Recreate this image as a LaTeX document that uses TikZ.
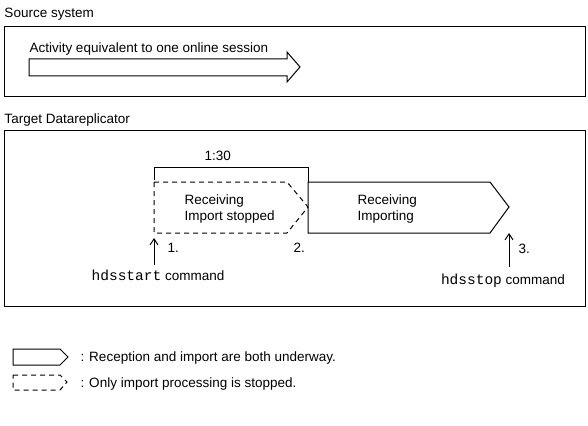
\documentclass[tikz,border=0pt]{standalone}
\usepackage{fontspec}
\setmainfont{Liberation Sans}
\setmonofont{Liberation Mono}
\usetikzlibrary{arrows.meta,positioning}

\begin{document}
\begin{tikzpicture}[
    x=1pt, y=-1pt,
    line width=1pt,
    txt/.style={anchor=base west, inner sep=0pt, font=\fontsize{13.5}{16}\selectfont},
    cmd/.style={anchor=base, inner sep=0pt, font=\fontsize{13.5}{16}\selectfont},
    frame/.style={draw, line width=1pt},
    stopped/.style={draw, dash pattern=on 5pt off 4pt},
    up/.style={-{Straight Barb[length=6pt,width=8pt]}}
]
    \useasboundingbox (0,0) rectangle (588,425);

    % source system
    \node[txt] (srclabel) at (4,18) {Source system};
    \draw[frame] (4,27) rectangle (585,97);
    \node[txt] (activity) at (29,53) {Activity equivalent to one online session};
    \draw (29,59) -- (287,59) -- (287,52) -- (300,67) -- (287,82) -- (287,76) -- (29,76) -- cycle;

    % target datareplicator
    \node[txt] (tgtlabel) at (4,124) {Target Datareplicator};
    \draw[frame] (4,130) rectangle (585,306);

    \node[txt] (period) at (204,160) {1:30};
    \draw (154,180) -- (154,167) -- (308,167) -- (308,182);

    \draw[stopped] (154,182) -- (287,182) -- (308,207) -- (287,233) -- (154,233) -- cycle;
    \node[txt] (rs) at (184,204) {Receiving};
    \node[txt] (is) at (184,220) {Import stopped};

    \draw (308,182) -- (490,182) -- (509,207) -- (490,233) -- (308,233) -- cycle;
    \node[txt] (ri) at (357,204) {Receiving};
    \node[txt] (ii) at (357,220) {Importing};

    % commands
    \node[cmd] (start) at (158,280) {\texttt{\fontsize{14.5}{16}\selectfont hdsstart} command};
    \node[cmd] (stop) at (503,284) {\texttt{\fontsize{14.5}{16}\selectfont hdsstop} command};
    \coordinate (p1) at (154,238);
    \coordinate (p3) at (509,233);
    \draw[up] (start.north -| p1) ++(0,-4) -- (p1);
    \draw[up] (stop.north -| p3) ++(0,-6) -- (p3);
    \node[txt] (n1) at (167,252) {1.};
    \node[txt] (n2) at (293,252) {2.};
    \node[txt] (n3) at (518,253) {3.};

    % legend
    \draw (13,349) -- (60,349) -- (68,357) -- (60,365) -- (13,365) -- cycle;
    \node[txt] (leg1) at (80,361) {: Reception and import are both underway.};
    \draw[stopped] (13,375) -- (60,375) -- (67,382) -- (60,390) -- (13,390) -- cycle;
    \node[txt] (leg2) at (80,387) {: Only import processing is stopped.};
\end{tikzpicture}
\end{document}
